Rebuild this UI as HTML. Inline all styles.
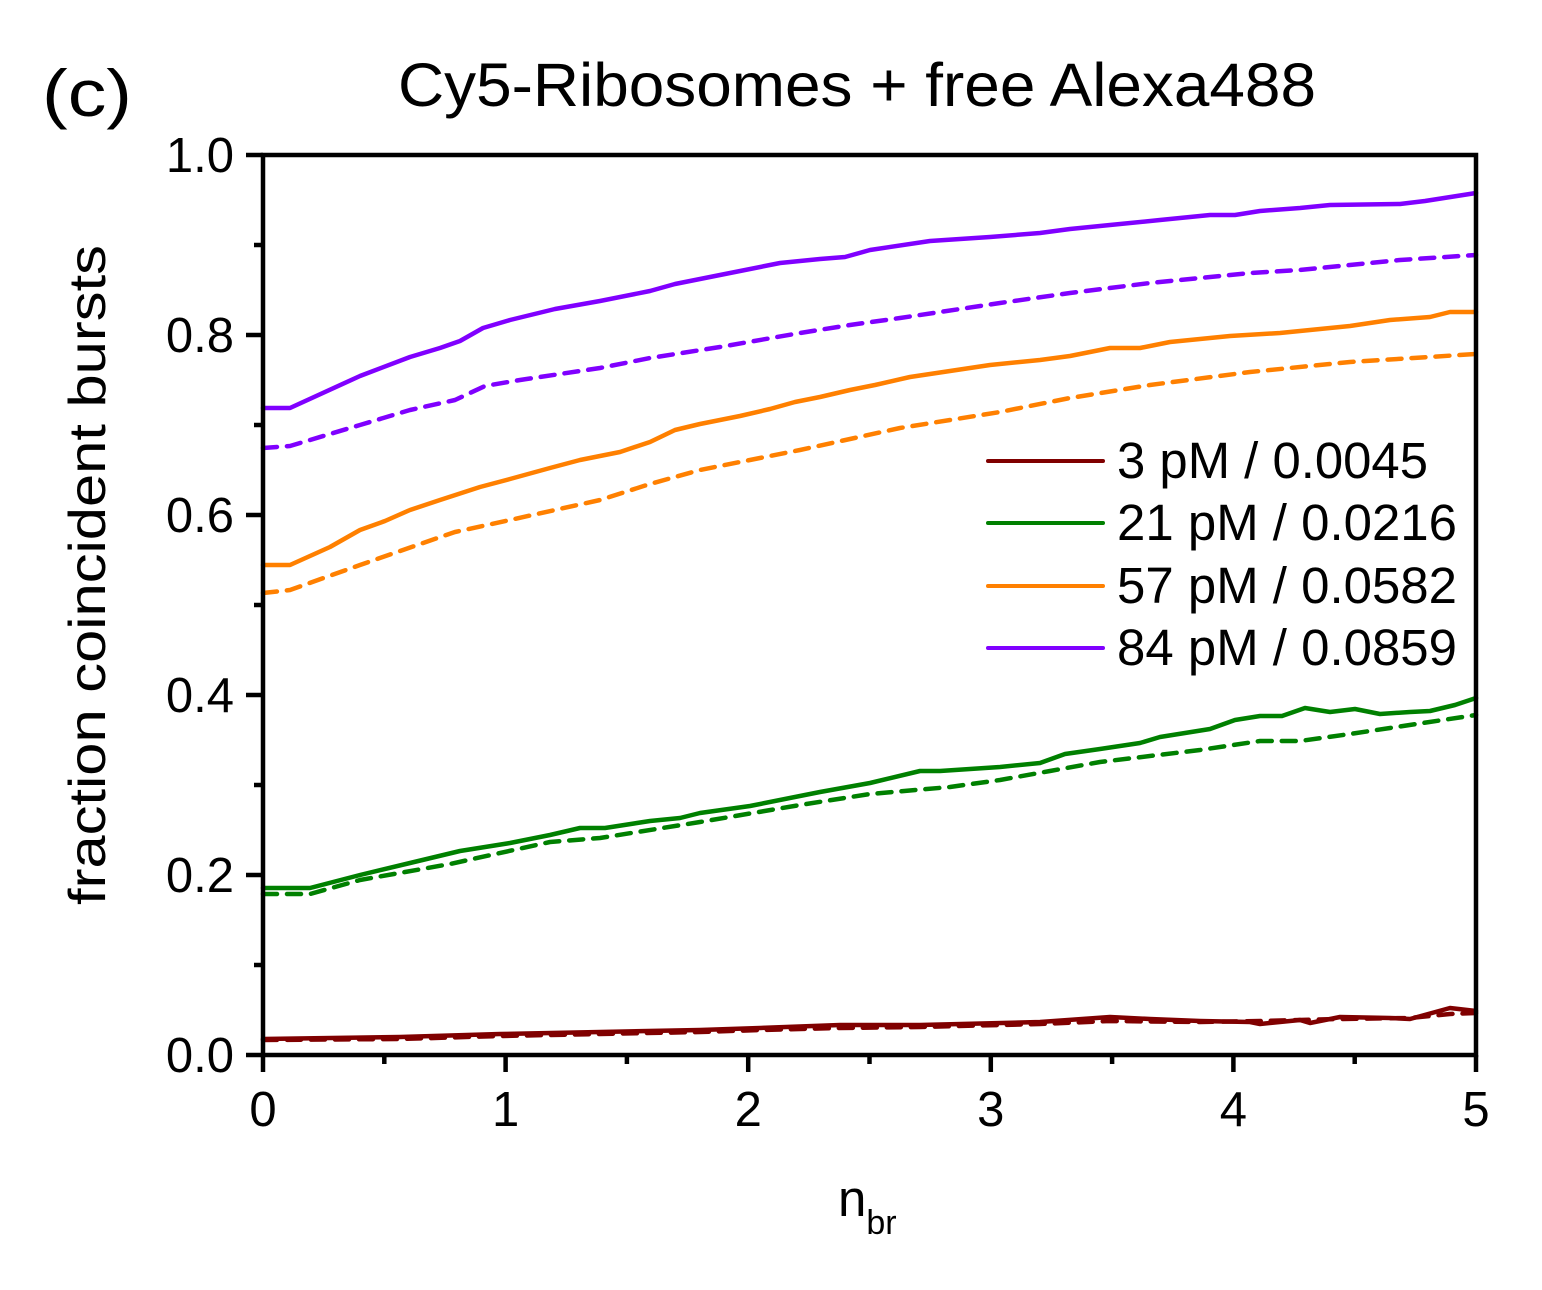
<!DOCTYPE html>
<html><head><meta charset="utf-8"><style>html,body{margin:0;padding:0;background:#fff}svg{display:block}text{font-family:"Liberation Sans",Arial,sans-serif;fill:#000}</style></head>
<body>
<svg width="1542" height="1290" viewBox="0 0 1542 1290" xmlns="http://www.w3.org/2000/svg">
<text x="42" y="116" font-size="66" textLength="90" lengthAdjust="spacingAndGlyphs">(c)</text>
<text x="398" y="106" font-size="61" textLength="918" lengthAdjust="spacingAndGlyphs">Cy5-Ribosomes + free Alexa488</text>
<g fill="none" stroke-linejoin="round" stroke-linecap="round">
<polyline stroke="#800000" stroke-width="4.5" stroke-dasharray="14,10" points="263,1040 400,1039 500,1036 600,1034 700,1032 760,1030 840,1028 920,1027 1040,1024 1110,1021 1200,1022 1260,1021 1340,1019 1410,1018 1450,1014 1476,1013"/>
<polyline stroke="#800000" stroke-width="4.5" points="263,1039 400,1037 500,1034 600,1032 700,1030 760,1028 840,1025 920,1025 1040,1022 1110,1017 1150,1019 1200,1021 1250,1022 1260,1024 1300,1020 1310,1023 1340,1017 1390,1018 1410,1019 1450,1008 1476,1011"/>
<polyline stroke="#008000" stroke-width="4.5" stroke-dasharray="14,10" points="263,894 310,894 360,880 450,864 550,842 600,838 700,822 800,805 870,794 950,787 1000,780 1050,771 1100,762 1200,750 1260,741 1300,741 1350,734 1476,715"/>
<polyline stroke="#008000" stroke-width="4.5" points="263,888 310,888 360,875 410,863 460,851 510,843 550,835 580,828 605,828 650,821 680,818 700,813 750,806 820,792 870,783 920,771 940,771 1000,767 1040,763 1065,754 1100,749 1140,743 1160,737 1210,729 1235,720 1260,716 1282,716 1305,708 1330,712 1355,709 1380,714 1410,712 1430,711 1455,705 1476,698"/>
<polyline stroke="#ff8000" stroke-width="4.5" stroke-dasharray="14,10" points="263,593 290,590 360,565 400,551 455,532 510,520 600,500 650,484 700,470 800,450 900,428 1000,412 1070,398 1150,385 1250,372 1350,362 1476,354"/>
<polyline stroke="#ff8000" stroke-width="4.5" points="263,565 290,565 330,547 360,530 385,521 410,510 440,500 480,487 510,479 550,468 580,460 620,452 650,442 675,430 700,424 740,416 770,409 795,402 820,397 850,390 875,385 910,377 950,371 990,365 1040,360 1070,356 1110,348 1140,348 1170,342 1230,336 1280,333 1310,330 1350,326 1390,320 1430,317 1450,312 1476,312"/>
<polyline stroke="#8000ff" stroke-width="4.5" stroke-dasharray="14,10" points="263,448 290,446 360,425 410,410 455,400 485,386 520,380 600,368 650,358 720,347 800,333 850,325 900,318 1000,303 1070,293 1150,283 1250,273 1300,270 1400,260 1476,255"/>
<polyline stroke="#8000ff" stroke-width="4.5" points="263,408 290,408 360,376 410,357 440,348 460,341 483,328 510,320 555,309 600,301 650,291 675,284 720,275 780,263 820,259 845,257 870,250 930,241 990,237 1040,233 1070,229 1110,225 1160,220 1210,215 1235,215 1260,211 1300,208 1330,205 1400,204 1425,201 1476,193"/>
<line x1="988" y1="461" x2="1103" y2="461" stroke="#800000" stroke-width="4"/>
<line x1="988" y1="523" x2="1103" y2="523" stroke="#008000" stroke-width="4"/>
<line x1="988" y1="586" x2="1103" y2="586" stroke="#ff8000" stroke-width="4"/>
<line x1="988" y1="648" x2="1103" y2="648" stroke="#8000ff" stroke-width="4"/>
</g>
<g font-size="51">
<text x="1117" y="478" textLength="311" lengthAdjust="spacingAndGlyphs">3 pM / 0.0045</text>
<text x="1117" y="540" textLength="340" lengthAdjust="spacingAndGlyphs">21 pM / 0.0216</text>
<text x="1117" y="603" textLength="340" lengthAdjust="spacingAndGlyphs">57 pM / 0.0582</text>
<text x="1117" y="665" textLength="340" lengthAdjust="spacingAndGlyphs">84 pM / 0.0859</text>
</g>
<rect x="263" y="155" width="1213" height="900" fill="none" stroke="#000" stroke-width="4.5"/>
<g stroke="#000" stroke-width="4.5">
<line x1="263" y1="1055" x2="263" y2="1072"/><line x1="505.6" y1="1055" x2="505.6" y2="1072"/><line x1="748.2" y1="1055" x2="748.2" y2="1072"/><line x1="990.8" y1="1055" x2="990.8" y2="1072"/><line x1="1233.4" y1="1055" x2="1233.4" y2="1072"/><line x1="1476" y1="1055" x2="1476" y2="1072"/>
<line x1="384.3" y1="1055" x2="384.3" y2="1064"/><line x1="626.9" y1="1055" x2="626.9" y2="1064"/><line x1="869.5" y1="1055" x2="869.5" y2="1064"/><line x1="1112.1" y1="1055" x2="1112.1" y2="1064"/><line x1="1354.7" y1="1055" x2="1354.7" y2="1064"/>
<line x1="246" y1="1055" x2="263" y2="1055"/><line x1="246" y1="875" x2="263" y2="875"/><line x1="246" y1="695" x2="263" y2="695"/><line x1="246" y1="515" x2="263" y2="515"/><line x1="246" y1="335" x2="263" y2="335"/><line x1="246" y1="155" x2="263" y2="155"/>
<line x1="254" y1="965" x2="263" y2="965"/><line x1="254" y1="785" x2="263" y2="785"/><line x1="254" y1="605" x2="263" y2="605"/><line x1="254" y1="425" x2="263" y2="425"/><line x1="254" y1="245" x2="263" y2="245"/>
</g>
<g font-size="49" text-anchor="end">
<text x="234" y="1072">0.0</text><text x="234" y="892">0.2</text><text x="234" y="712">0.4</text><text x="234" y="532">0.6</text><text x="234" y="352">0.8</text><text x="234" y="172">1.0</text>
</g>
<g font-size="49" text-anchor="middle">
<text x="263" y="1126">0</text><text x="505.6" y="1126">1</text><text x="748.2" y="1126">2</text><text x="990.8" y="1126">3</text><text x="1233.4" y="1126">4</text><text x="1476" y="1126">5</text>
</g>
<text x="838" y="1216" font-size="51">n<tspan font-size="34" dy="18">br</tspan></text>
<text transform="translate(105,575) rotate(-90)" font-size="52" text-anchor="middle" textLength="660" lengthAdjust="spacingAndGlyphs">fraction coincident bursts</text>
</svg>
</body></html>
